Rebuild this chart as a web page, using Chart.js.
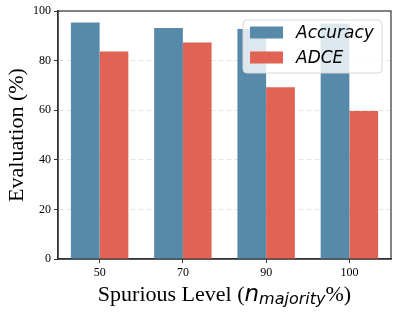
<!DOCTYPE html>
<html>
<head>
<meta charset="utf-8">
<script src="https://cdn.jsdelivr.net/npm/chart.js@4.4.0/dist/chart.umd.min.js"></script>
<style>
  html, body { margin: 0; padding: 0; background: #fff; }
  #wrap { width: 399px; height: 314px; }
</style>
</head>
<body>
<div id="wrap"><canvas id="barChart" width="399" height="314"></canvas></div>
<script>
let levels = ["50", "70", "90", "100"];
let accuracy = [95.4, 93.1, 92.7, 94.9];
let adce = [83.7, 87.3, 69.3, 59.7];
let yTicks = [0, 20, 40, 60, 80, 100];

const serif = "'Liberation Serif', 'DejaVu Serif', serif";
const sans = "'DejaVu Sans', sans-serif";

// draws axis titles (mixed fonts) and the overlaid legend box
const decorations = {
    id: 'decorations',
    afterDraw(chart) {
        const ctx = chart.ctx;
        const area = chart.chartArea;
        ctx.save();

        // y title
        ctx.fillStyle = '#000';
        ctx.font = '22px ' + serif;
        ctx.textAlign = 'center';
        ctx.textBaseline = 'middle';
        ctx.translate(17, (area.top + area.bottom) / 2);
        ctx.rotate(-Math.PI / 2);
        ctx.fillText('Evaluation (%)', 0, 0);
        ctx.setTransform(1, 0, 0, 1, 0, 0);

        // x title: Spurious Level (n_majority%)
        const parts = [
            { t: 'Spurious Level (', f: '22px ' + serif, dy: 0 },
            { t: 'n', f: 'italic 23px ' + sans, dy: 0 },
            { t: 'majority', f: 'italic 16px ' + sans, dy: 3 },
            { t: '%)', f: '22px ' + serif, dy: 0 }
        ];
        let total = 0;
        parts.forEach(p => { ctx.font = p.f; p.w = ctx.measureText(p.t).width; total += p.w; });
        let x = (area.left + area.right) / 2 - total / 2;
        const base = 301;
        ctx.textAlign = 'left';
        ctx.textBaseline = 'alphabetic';
        parts.forEach(p => {
            ctx.font = p.f;
            ctx.fillText(p.t, x, base + p.dy);
            x += p.w;
        });

        // legend
        const lx = 243, ly = 20, lw = 139, lh = 53;
        ctx.beginPath();
        ctx.roundRect(lx, ly, lw, lh, 4);
        ctx.fillStyle = 'rgba(255,255,255,0.8)';
        ctx.fill();
        ctx.strokeStyle = '#d8d8d8';
        ctx.lineWidth = 1;
        ctx.stroke();
        ctx.font = 'italic 17px ' + sans;
        ctx.textBaseline = 'middle';
        chart.data.datasets.forEach((ds, i) => {
            const cy = 32.5 + i * 25;
            ctx.fillStyle = ds.backgroundColor;
            ctx.fillRect(250, cy - 6, 33, 12);
            ctx.fillStyle = '#000';
            ctx.fillText(ds.label, 296, cy + 1);
        });
        ctx.restore();
    }
};

let ctxB = document.getElementById("barChart").getContext('2d');
let myBarChart = new Chart(ctxB, {
    type: 'bar',
    data: {
        labels: levels,
        datasets: [{
            label: "Accuracy",
            data: accuracy,
            backgroundColor: '#5789a8',
            borderWidth: 0
        },
        {
            label: "ADCE",
            data: adce,
            backgroundColor: '#e06353',
            borderWidth: 0
        }]
    },
    options: {
        responsive: false,
        animation: false,
        layout: { padding: { top: 11, right: 8, left: 0, bottom: 0 } },
        plugins: {
            legend: { display: false },
            tooltip: { enabled: false }
        },
        datasets: {
            bar: { categoryPercentage: 0.69, barPercentage: 1.0 }
        },
        scales: {
            x: {
                grid: {
                    display: true,
                    drawOnChartArea: false,
                    drawTicks: true,
                    tickLength: 4,
                    tickColor: '#333',
                    offset: false
                },
                border: { color: '#333', width: 1.5 },
                ticks: {
                    color: '#000',
                    font: { family: serif, size: 12 },
                    padding: 3
                },
                afterFit(scale) { scale.height = 55; }
            },
            y: {
                min: 0,
                max: 100,
                afterBuildTicks(scale) { scale.ticks = yTicks.map(v => ({ value: v })); },
                grid: {
                    color: 'rgba(0,0,0,0.1)',
                    tickColor: '#333',
                    tickLength: 4,
                    drawTicks: true
                },
                border: { color: '#333', width: 1.5, dash: [5, 3] },
                ticks: {
                    color: '#000',
                    font: { family: serif, size: 12 },
                    padding: 3
                },
                afterFit(scale) { scale.width = 58; }
            }
        }
    },
    plugins: [decorations, {
        id: 'frame',
        beforeDatasetsDraw(chart) {
            const c = chart.ctx, a = chart.chartArea;
            c.save();
            c.strokeStyle = '#333';
            c.lineWidth = 1.2;
            c.strokeRect(a.left, a.top, a.right - a.left, a.bottom - a.top);
            c.restore();
        }
    }]
});
</script>
</body>
</html>
